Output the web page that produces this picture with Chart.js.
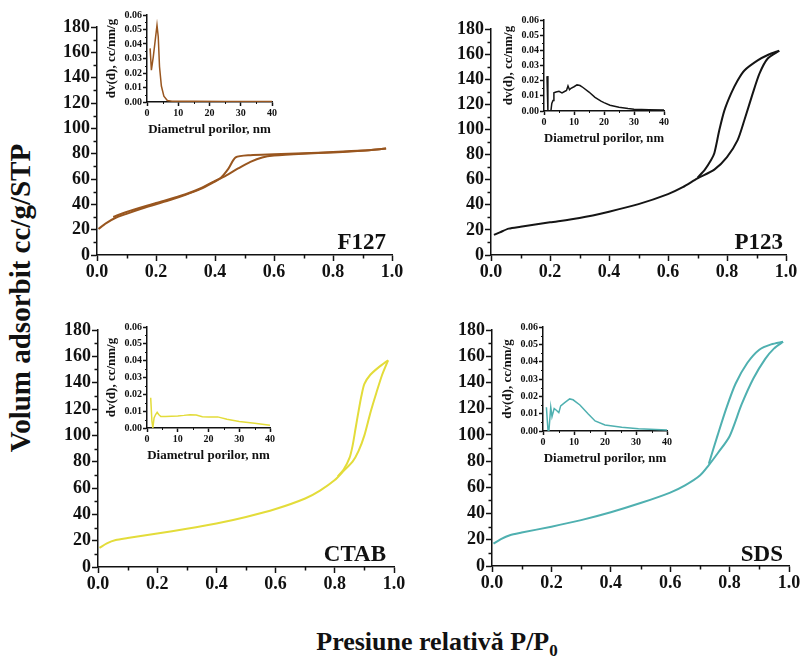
<!DOCTYPE html>
<html>
<head>
<meta charset="utf-8">
<script src="https://cdn.jsdelivr.net/npm/chart.js@4.4.0/dist/chart.umd.min.js"></script>
<style>
  body { margin: 0; background: #fff; }
  #wrap { position: relative; width: 801px; height: 656px; overflow: hidden;
          font-family: "Liberation Serif", "Times New Roman", serif; font-weight: bold; color: #111; }
  canvas { position: absolute; }
  .tag { position: absolute; font-size: 23px; line-height: 1; }
  #ytitle { position: absolute; font-size: 29px; white-space: nowrap; left: 20px; top: 298px;
            transform: translate(-50%, -50%) rotate(-90deg); }
  #xtitle { position: absolute; font-size: 26px; white-space: nowrap; left: 437px; top: 627px; transform: translateX(-50%); }
  #xtitle sub { font-size: 17px; }
</style>
</head>
<body>
<div id="wrap">
  <canvas id="mF127"></canvas><canvas id="mP123"></canvas>
  <canvas id="mCTAB"></canvas><canvas id="mSDS"></canvas>
  <canvas id="iF127"></canvas><canvas id="iP123"></canvas>
  <canvas id="iCTAB"></canvas><canvas id="iSDS"></canvas>
  <div class="tag" style="right:415px;top:230px">F127</div>
  <div class="tag" style="right:18px;top:230px">P123</div>
  <div class="tag" style="right:415px;top:542px">CTAB</div>
  <div class="tag" style="right:18px;top:542px">SDS</div>
  <div id="ytitle">Volum adsorbit cc/g/STP</div>
  <div id="xtitle">Presiune relativă P/P<sub>0</sub></div>
</div>
<script>
// isotherms: [P/P0, volume]
const f127Ads = [[0.005,20.5],[0.03,25],[0.06,29],[0.1,32.5],[0.15,36.5],[0.2,40],[0.25,43.5],[0.3,47.5],[0.35,52],[0.4,58],[0.44,63],[0.48,68.5],[0.52,73.5],[0.56,77],[0.6,78.5],[0.7,80],[0.8,81],[0.9,82.3],[0.98,84]];
const f127Des = [[0.98,84],[0.9,82.5],[0.8,81.3],[0.7,80.3],[0.6,79.5],[0.52,78.8],[0.47,77],[0.445,68],[0.42,61],[0.4,58.5],[0.35,52.5],[0.3,48],[0.2,41],[0.1,34],[0.055,30]];
const p123Ads = [[0.01,16],[0.03,18],[0.06,21],[0.1,22.5],[0.2,26],[0.3,29.5],[0.4,34.5],[0.5,40.5],[0.6,48.5],[0.65,54],[0.7,61],[0.757,68],[0.8,78],[0.836,91.5],[0.859,107.5],[0.887,128.5],[0.91,144.5],[0.938,156.5],[0.977,162.7]];
const p123Des = [[0.977,162.7],[0.94,159.5],[0.904,155],[0.859,147],[0.836,139],[0.814,128.7],[0.791,115],[0.774,99.5],[0.757,81],[0.746,75.6],[0.725,68],[0.7,61.5]];
const ctabAds = [[0.005,14.5],[0.03,18],[0.06,20.5],[0.1,22],[0.2,25.5],[0.3,29],[0.4,33],[0.5,38],[0.6,44],[0.7,52],[0.75,58],[0.8,66],[0.83,73],[0.86,80],[0.88,88],[0.9,100],[0.92,117],[0.94,132],[0.96,146],[0.98,157]];
const ctabDes = [[0.98,157],[0.95,152],[0.92,146],[0.9,139],[0.89,130],[0.88,118],[0.87,105],[0.86,92],[0.85,83],[0.83,74],[0.81,69]];
const sdsAds = [[0.005,17],[0.03,20.5],[0.06,23.5],[0.1,25.5],[0.2,30],[0.3,35],[0.4,41],[0.5,48],[0.6,56],[0.65,61.5],[0.7,69],[0.73,77],[0.76,86],[0.8,99],[0.84,123],[0.88,143],[0.92,158],[0.95,166],[0.98,171]];
const sdsDes = [[0.98,171],[0.94,169],[0.9,165],[0.86,155],[0.82,139],[0.79,121],[0.76,100],[0.73,78]];

// pore size distributions: [diameter nm, dv(d)]
const f127Psd = [[1,0.037],[1.4,0.022],[2,0.031],[2.6,0.042],[3.2,0.053],[3.6,0.045],[4,0.0245],[4.6,0.011],[5.4,0.004],[6.5,0.001],[8,0.0006],[15,0.0005],[25,0.0004],[40,0.0004]];
const p123Psd = [[1,0.023],[1.3,0],[2.3,0],[2.6,0.005],[3,0.007],[3.3,0.012],[4,0.0125],[5,0.013],[6,0.012],[7,0.013],[7.5,0.0135],[8,0.0165],[8.5,0.014],[9,0.015],[10,0.016],[11,0.0172],[12,0.0168],[13,0.0155],[15,0.0125],[17,0.009],[19,0.0065],[20,0.0055],[22,0.0038],[25,0.0025],[28,0.0016],[30,0.0012],[35,0.0008],[40,0.0006]];
const ctabPsd = [[1.2,0.018],[1.6,0.004],[1.9,0.0002],[2.3,0.006],[2.8,0.008],[3.3,0.0093],[3.8,0.008],[4.5,0.0068],[6,0.0068],[8,0.007],[10,0.0072],[12,0.0075],[14,0.0079],[16,0.0077],[18,0.0067],[20,0.0066],[23,0.0066],[26,0.0052],[30,0.0038],[35,0.0028],[40,0.0016]];
const sdsPsd = [[1.1,0.0137],[1.6,0.0006],[1.9,0],[2.5,0.0137],[2.9,0.0083],[3.6,0.013],[4.3,0.012],[5.1,0.0106],[5.7,0.0145],[7,0.0164],[8.6,0.0185],[9.7,0.018],[11.9,0.015],[14.6,0.0098],[16.8,0.0058],[20,0.0035],[25.4,0.0021],[30.8,0.0013],[40,0.0006]];

const pressureTicks = [0, 0.2, 0.4, 0.6, 0.8, 1.0];
const volumeTicks = [0, 20, 40, 60, 80, 100, 120, 140, 160, 180];
const diameterTicks = [0, 10, 20, 30, 40];
const dvTicks = [0, 0.01, 0.02, 0.03, 0.04, 0.05, 0.06];

const colors = { F127: '#99561f', P123: '#151515', CTAB: '#e3dc3a', SDS: '#4fb0b0' };
const ink = '#111';
const serif = '"Liberation Serif", "Times New Roman", serif';

// small ticks between the labelled ones
const minorTicks = {
    id: 'minorTicks',
    afterDraw(chart, args, opts) {
        const ctx = chart.ctx;
        const xs = chart.scales.x, ys = chart.scales.y;
        ctx.save();
        ctx.strokeStyle = ink;
        ctx.lineWidth = opts.width;
        ctx.beginPath();
        for (let v = xs.min + opts.x; v < xs.max; v += 2 * opts.x) {
            const px = Math.round(xs.getPixelForValue(v)) + 0.5;
            ctx.moveTo(px, ys.bottom);
            ctx.lineTo(px, ys.bottom + opts.len);
        }
        for (let v = ys.min + opts.y; v < ys.max; v += 2 * opts.y) {
            const py = Math.round(ys.getPixelForValue(v)) + 0.5;
            ctx.moveTo(xs.left, py);
            ctx.lineTo(xs.left - opts.len, py);
        }
        ctx.stroke();
        ctx.restore();
    }
};

function axis(min, max, tickVals, fmt, fontSize, tickLen, fitSize, title, titleSize) {
    return {
        type: 'linear', min: min, max: max,
        afterBuildTicks: s => { s.ticks = tickVals.map(v => ({ value: v })); },
        afterFit: s => { if (s.isHorizontal()) s.height = fitSize; else s.width = fitSize; },
        grid: { display: true, drawOnChartArea: false, drawTicks: true, tickLength: tickLen, tickWidth: 1.5, color: ink },
        border: { display: true, color: ink, width: 1.5 },
        ticks: { color: ink, padding: 1, maxRotation: 0, autoSkip: false,
                 font: { family: serif, weight: 'bold', size: fontSize }, callback: fmt },
        title: { display: !!title, text: title || '', color: ink, padding: 1,
                 font: { family: serif, weight: 'bold', size: titleSize || 12 } }
    };
}

function line(pairs, color, width, tension) {
    return { data: pairs.map(p => ({ x: p[0], y: p[1] })), borderColor: color, borderWidth: width,
             showLine: true, pointRadius: 0, tension: tension, fill: false };
}

// build a chart so its plot area lands exactly on the wanted box
function place(id, box, makeConfig, pad) {
    const cv = document.getElementById(id);
    let w = box.w + pad.extraW, h = box.h + pad.extraH;
    let chart;
    for (let pass = 0; pass < 2; pass++) {
        if (chart) chart.destroy();
        cv.width = w; cv.height = h;
        cv.style.width = w + 'px'; cv.style.height = h + 'px';
        chart = new Chart(cv, makeConfig());
        const ca = chart.chartArea;
        w += box.w - (ca.right - ca.left);
        h += box.h - (ca.bottom - ca.top);
    }
    const ca = chart.chartArea;
    cv.style.left = (box.l - ca.left) + 'px';
    cv.style.top = (box.t - ca.top) + 'px';
}

function mainConfig(ads, des, color) {
    return () => ({
        type: 'scatter',
        data: { datasets: [line(ads, color, 2, 0.25), line(des, color, 2, 0.25)] },
        plugins: [minorTicks],
        options: {
            responsive: false, animation: false, devicePixelRatio: 1,
            layout: { padding: { top: 12, right: 20, left: 0, bottom: 0 } },
            plugins: { legend: { display: false }, tooltip: { enabled: false },
                       minorTicks: { x: 0.1, y: 10, len: 3.5, width: 1.5 } },
            scales: {
                x: axis(0, 1, pressureTicks, v => v.toFixed(1), 18, 6, 30),
                y: axis(0, 180, volumeTicks, v => String(v), 18, 6, 50)
            }
        }
    });
}

function insetConfig(psd, color) {
    return () => ({
        type: 'scatter',
        data: { datasets: [line(psd, color, 1.5, 0)] },
        plugins: [minorTicks],
        options: {
            responsive: false, animation: false, devicePixelRatio: 1,
            layout: { padding: { top: 8, right: 10, left: 0, bottom: 0 } },
            plugins: { legend: { display: false }, tooltip: { enabled: false },
                       minorTicks: { x: 5, y: 0.005, len: 2, width: 1 } },
            scales: {
                x: axis(0, 40, diameterTicks, v => String(Math.round(v)), 10, 4, 36, 'Diametrul porilor, nm', 13),
                y: axis(0, 0.06, dvTicks, v => v.toFixed(2), 10, 4, 44, 'dv(d), cc/nm/g', 13)
            }
        }
    });
}

Chart.defaults.font.family = serif;

const mainPad = { extraW: 80, extraH: 50 };
const insetPad = { extraW: 60, extraH: 50 };

place('mF127', { l: 97, t: 27, w: 295, h: 228 }, mainConfig(f127Ads, f127Des, colors.F127), mainPad);
place('mP123', { l: 491, t: 29, w: 295, h: 226 }, mainConfig(p123Ads, p123Des, colors.P123), mainPad);
place('mCTAB', { l: 98, t: 330, w: 296, h: 237 }, mainConfig(ctabAds, ctabDes, colors.CTAB), mainPad);
place('mSDS', { l: 492, t: 330, w: 297, h: 236 }, mainConfig(sdsAds, sdsDes, colors.SDS), mainPad);

place('iF127', { l: 147, t: 15, w: 125, h: 87 }, insetConfig(f127Psd, colors.F127), insetPad);
place('iP123', { l: 544, t: 20, w: 120, h: 91 }, insetConfig(p123Psd, colors.P123), insetPad);
place('iCTAB', { l: 147, t: 327, w: 123, h: 101 }, insetConfig(ctabPsd, colors.CTAB), insetPad);
place('iSDS', { l: 543, t: 327, w: 124, h: 104 }, insetConfig(sdsPsd, colors.SDS), insetPad);
</script>
</body>
</html>
